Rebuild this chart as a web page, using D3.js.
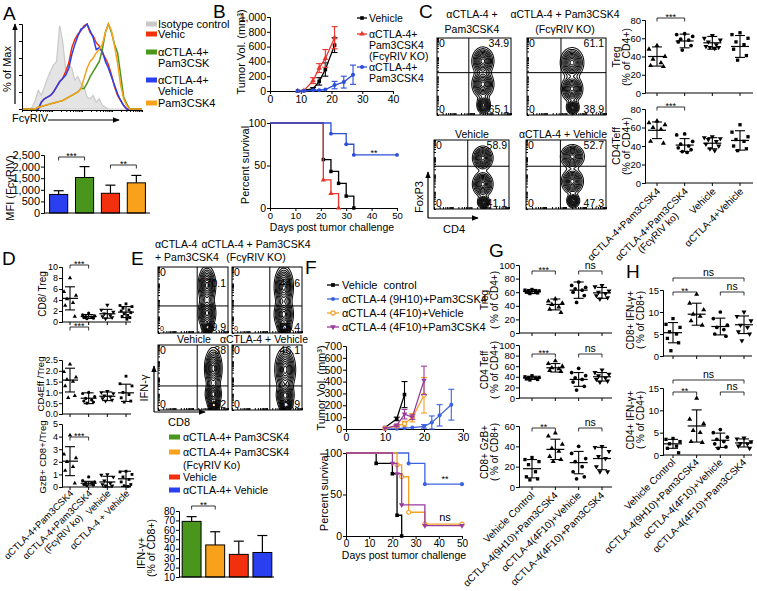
<!DOCTYPE html>
<html><head><meta charset="utf-8">
<script src="https://cdn.jsdelivr.net/npm/d3@7/dist/d3.min.js"></script>
<style>
html,body{margin:0;padding:0;background:#fff;}
svg{display:block;}
text{font-family:"Liberation Sans",Arial,Helvetica,sans-serif;}
</style></head>
<body>
<svg id="fig" width="757" height="591" viewBox="0 0 757 591"></svg>
<script>
// ======================= DATA =======================
// ---- Panel A: FcγRIV histograms (% of max, 40 log-spaced bins) ----
const histBins = d3.range(40);
const histIsotype     = [0,0,0,2,10,22,16,26,36,44,52,56,98,80,46,52,48,34,38,30,26,14,12,16,8,12,4,2,0,0,0,0,0,0,0,0,0,0,0,0];
const histVehicle     = [0,0,0,0,0,0,8,12,14,16,20,26,32,36,44,54,72,82,88,92,98,100,90,86,78,74,66,60,52,40,26,16,10,4,0,0,0,0,0,0];
const histCtlaVehicle = [0,0,0,0,0,0,8,12,14,16,20,26,32,36,40,48,64,76,86,94,96,100,92,84,70,72,68,56,48,38,28,18,10,4,0,0,0,0,0,0];
const histCtlaPam     = [0,0,0,0,0,2,3,4,5,6,7,8,9,10,12,14,16,18,20,24,24,30,38,44,50,56,70,90,100,90,76,66,40,14,6,0,0,0,0,0];
const histPam         = [0,0,0,0,0,2,3,4,5,6,7,8,9,10,12,14,16,18,20,24,36,48,56,60,66,70,76,90,100,92,74,54,28,12,4,0,0,0,0,0];
const aLegendLabels = [["Isotype control"],["Vehic"],["αCTLA-4+","Pam3CSK"],["αCTLA-4+","Vehicle"],["Pam3CSK4"]];
// MFI bars
const mfiGroups = ["αCTLA-4+ Vehicle","αCTLA-4+ Pam3CSK4","Vehicle","Pam3CSK4"];
const mfiMean = [800,1530,850,1300];
const mfiErr  = [160,470,350,320];
const mfiTicks = [0,500,1000,1500,2000,2500];

// ---- Panel B: tumor growth & survival ----
const bLegend = [["Vehicle"],["αCTLA-4+","Pam3CSK4","(FcγRIV KO)"],["αCTLA-4+","Pam3CSK4"]];
const bVehDays = [9,14,16,18,21],           bVehMean = [0,30,130,290,620],            bVehErr = [0,15,50,90,100];
const bKoDays  = [9,11,14,16,18,21],        bKoMean  = [0,5,140,310,440,720],          bKoErr  = [0,5,40,60,120,150];
const bPamDays = [9,11,14,16,18,21,24,27],  bPamMean = [0,0,10,10,20,80,120,220],      bPamErr = [0,0,5,5,10,50,80,130];
const bTumorYTicks = [0,200,400,600,800,1000], bTumorXTicks = [0,10,20,30,40];
const bSurvVehT = [0,21,24,27,30,33], bSurvVehS = [100,57,43,29,14,0];
const bSurvKoT  = [0,21,24,27],        bSurvKoS  = [100,33,17,0];
const bSurvPamT = [0,24,30,33,50],     bSurvPamS = [100,87.5,75,62.5,62.5];
const survXTicks = [0,10,20,30,40,50];

// ---- Panel C: flow plots (FoxP3 vs CD4) ----
const cTitles = [["αCTLA-4 +","Pam3CSK4"],["αCTLA-4 + Pam3CSK4","(FcγRIV KO)"],["Vehicle"],["αCTLA-4 + Vehicle"]];
const cUpperRight = ["34.9","61.1","58.9","52.7"];
const cLowerRight = ["65.1","38.9","41.1","47.3"];
const cGates = [[0.43,0.55],[0.43,0.55],[0.45,0.62],[0.43,0.62]];
// populations [CD4, FoxP3, spreadCD4, spreadFoxP3] in 0-1 plot units
const cPops = [
  [[0.62,0.70,0.13,0.16],[0.62,0.40,0.13,0.16],[0.63,0.13,0.08,0.10]],
  [[0.57,0.68,0.13,0.17],[0.57,0.34,0.12,0.15],[0.58,0.10,0.07,0.08]],
  [[0.65,0.74,0.12,0.15],[0.65,0.36,0.12,0.16],[0.66,0.10,0.07,0.08]],
  [[0.58,0.76,0.13,0.15],[0.58,0.40,0.12,0.16],[0.59,0.12,0.07,0.09]]
];
// C scatter: Treg and CD4Teff (% of CD4+)
const catC = ["αCTLA-4+Pam3CSK4","αCTLA-4+Pam3CSK4\n(FcγRIV ko)","Vehicle","αCTLA-4+Vehicle"];
const cTreg = [[52,48,40,37,33,30,29],[65,64,62,59,58,56,52,47],[63,60,58,56,53,51,50,50,49],[66,64,60,56,53,48,41,36]];
const cTregMean = [40,57,55,51], cTregSD = [10.5,7.5,7,12];
const cTeff = [[67,65,63,60,58,45,43],[53,52,45,42,40,38,36,34,33],[50,49,48,47,45,42,40,37,35],[63,55,50,47,45,40,37,35]];
const cTeffMean = [57,41,43,46], cTeffSD = [9,7,6,10.5];
const pctTicks80 = [0,20,40,60,80];

// ---- Panel D: ratios ----
const catD = ["αCTLA-4+Pam3CSK4","αCTLA-4+Pam3CSK4\n(FcγRIV ko)","Vehicle","αCTLA-4 + Vehicle"];
const dCd8 = [[8,5.5,4.8,4.2,3.5,3,1],[1.6,1.3,1.1,1.0,0.9,0.8,0.7,0.6],[3.1,2.2,1.8,1.5,1.2,1.0,0.8,0.6],[3.3,3.0,2.8,2.5,2.2,2.0,1.7,1.5,1.2,1.0,0.8,0.5]];
const dCd8Mean = [4.3,1.0,1.5,1.8], dCd8SD = [2.1,0.35,0.8,1.0];
const dCd8Ticks = [0,2,4,6,8,10];
const dEff = [[2.3,1.95,1.7,1.6,1.5,1.3,0.85,0.75],[1.0,0.95,0.8,0.72,0.65,0.6,0.55,0.5],[1.05,1.0,0.95,0.85,0.8,0.72,0.65,0.6],[1.75,1.4,1.3,1.0,0.9,0.75,0.6,0.55]];
const dEffMean = [1.57,0.73,0.82,0.98], dEffSD = [0.55,0.25,0.2,0.4];
const dEffTicks = [0,0.5,1.0,1.5,2.0,2.5];
const dGzb = [[4.1,2.6,2.3,2.0,1.6,1.3,0.3],[0.8,0.5,0.4,0.3,0.3,0.2,0.15,0.1],[1.0,0.95,0.8,0.5,0.3,0.2,0.1,0.1],[1.25,1.2,1.0,0.8,0.6,0.4,0.2,0.1,0.05]];
const dGzbMean = [2.05,0.3,0.4,0.65], dGzbSD = [1.15,0.15,0.45,0.6];
const dGzbTicks = [0,1,2,3,4,5];

// ---- Panel E: flow (IFN-γ vs CD8) + bars ----
const eTopRight = ["70.1","44.6","38","46.1"];
const eBottomRight = ["29.9","55.4","62","53.9"];
const eGates = [[0.56,0.41],[0.54,0.41],[0.56,0.37],[0.54,0.37]];
const ePops = [
  [[0.70,0.72,0.11,0.26],[0.70,0.30,0.11,0.22],[0.71,0.08,0.07,0.08]],
  [[0.74,0.70,0.12,0.28],[0.74,0.28,0.12,0.22],[0.75,0.08,0.08,0.08]],
  [[0.79,0.64,0.11,0.28],[0.79,0.24,0.10,0.18],[0.80,0.07,0.07,0.07]],
  [[0.76,0.62,0.13,0.30],[0.76,0.22,0.11,0.18],[0.77,0.07,0.08,0.07]]
];
const eGroups = ["αCTLA-4+ Pam3CSK4","αCTLA-4+ Pam3CSK4\n(FcγRIV Ko)","Vehicle","αCTLA-4+ Vehicle"];
const eIfnMean = [69,44,34,36];
const eIfnErr  = [5,14,14,18];
const eIfnTicks = [10,20,30,40,50,60,70,80];

// ---- Panel F: tumor growth & survival ----
const fLegend = ["Vehicle  control","αCTLA-4 (9H10)+Pam3CSK4","αCTLA-4 (4F10)+Vehicle","αCTLA-4 (4F10)+Pam3CSK4"];
const fVehDays = [10,13,15],                 fVehMean = [12,85,290],                 fVehErr = [5,15,110];
const f9H10Days = [10,13,15,17,20,22,24,27], f9H10Mean = [0,3,8,12,22,55,115,205],    f9H10Err = [0,2,4,5,15,55,90,130];
const f4F10VDays = [10,13,15,17,20],         f4F10VMean = [5,25,45,95,285],          f4F10VErr = [3,10,20,35,150];
const f4F10PDays = [10,13,15,17,20],         f4F10PMean = [5,30,125,100,410],        f4F10PErr = [3,10,40,20,120];
const fTumorYTicks = [0,100,200,300,400,500,600,700], fTumorXTicks = [0,10,20,30];
const fSurvVehT = [0,13,20,22,24],        fSurvVehS = [100,87.5,75,25,0];
const fSurv9T   = [0,27,34,50],           fSurv9S   = [100,87.5,62.5,62.5];
const fSurv4VT  = [0,22,24,27,34,50],     fSurv4VS  = [100,85.7,71.4,28.6,14.3,14.3];
const fSurv4PT  = [0,20,22,24,34,50],     fSurv4PS  = [100,87.5,75,37.5,12.5,12.5];

// ---- Panels G & H ----
const catGH = ["Vehicle Control","αCTLA-4(9H10)+Pam3CSK4","αCTLA-4(4F10)+Vehicle","αCTLA-4(4F10)+Pam3CSK4"];
const gTreg = [[64,63,62,61,61,60,59,58],[50,47,44,42,38,35,30],[75,70,67,65,63,60,55,45],[70,68,62,60,58,55,52,50]];
const gTregMean = [61,42,63,59], gTregSD = [3,8,12,8];
const gTeff = [[42,40,39,38,37,36,35,34],[70,65,60,57,55,52,50],[56,48,42,38,35,30,22,15],[53,48,45,42,38,35,32,30]];
const gTeffMean = [38,57,35,40], gTeffSD = [3,8,13,8];
const gGzb = [[29,27,25,22,15,10,8,7],[53,50,42,38,35,30,27,25],[40,33,28,25,20,15,10,8],[40,39,35,30,28,20,15,15]];
const gGzbMean = [18,37,24,28], gGzbSD = [9,10,11,11];
const pctTicks100 = [0,20,40,60,80,100], pctTicks60 = [0,20,40,60];
const hCd8 = [[8.5,7.2,6.5,5.5,5,4,3,1.2],[14,12,10.5,9.5,9,8,7],[10,8.5,7,6.5,6,5,4.5],[10,9,8,7,6.5,5.5,5,3.5]];
const hCd8Mean = [5.3,9.5,6.7,7.1], hCd8SD = [2.3,2.5,1.9,2.0];
const hCd4 = [[3.7,3.5,3,2.5,2,1.5,0.5],[12.7,8,7,5.5,5,3,2.8],[5.7,5,4,3.5,3,2.5,1.8,1.5],[3.8,3.6,3,2.6,2.5,2,1.5]];
const hCd4Mean = [2.5,6.5,3.3,2.7], hCd4SD = [1.0,3.6,1.6,0.9];
const hTicks = [0,5,10,15];

// ======================= STYLE =======================
const FF = '"Liberation Sans", Arial, Helvetica, sans-serif';
const C_GREEN = "#4a961c", C_ORANGE = "#f9a11b", C_RED = "#f2300e", C_BLUE = "#2a3ff0", C_GRAY = "#c9c9c9";
const F_BLUE = "#3d63e3", F_ORANGE = "#f4a125", F_PURPLE = "#9a3c9c", B_RED = "#e8342b", B_BLUE = "#2c4fd9";
const JIT = [0,-1,1,-0.5,0.5,-0.8,0.8,-0.3,0.3,-0.65,0.65,0.15];

const svg = d3.select("#fig");
const defs = svg.append("defs");
defs.append("marker").attr("id","arr").attr("viewBox","0 0 10 10").attr("refX",9).attr("refY",5)
  .attr("markerWidth",6).attr("markerHeight",6).attr("orient","auto")
  .append("path").attr("d","M0,1L10,5L0,9z").attr("fill","#000");

function T(g,x,y,s,o={}){
  const t=g.append("text").attr("x",x).attr("y",y).attr("font-size",o.fs||10.5)
    .attr("fill",o.fill||"#000").attr("text-anchor",o.a||"start");
  if(o.rot!=null) t.attr("transform",`rotate(${o.rot},${x},${y})`);
  if(o.pre) t.style("white-space","pre");
  t.text(s); return t;
}
function L(g,x1,y1,x2,y2,o={}){
  return g.append("line").attr("x1",x1).attr("y1",y1).attr("x2",x2).attr("y2",y2)
    .attr("stroke",o.c||"#000").attr("stroke-width",o.w||1);
}
function arrow(g,x1,y1,x2,y2){ L(g,x1,y1,x2,y2,{w:1.2}).attr("marker-end","url(#arr)"); }
function sty(a,fs){
  a.attr("font-family",FF).attr("font-size",fs||10);
  a.selectAll("text").attr("fill","#000");
  a.selectAll("path,line").attr("stroke","#000").attr("stroke-width",1);
  return a;
}
const SYM={circle:d3.symbolCircle,square:d3.symbolSquare,tri:d3.symbolTriangle,tdown:d3.symbolTriangle,diamond:d3.symbolDiamond};
function mark(g,x,y,shape,size,color,open){
  g.append("path").attr("d",d3.symbol().type(SYM[shape]).size(size)())
   .attr("transform",`translate(${x},${y})${shape==="tdown"?" rotate(180)":""}`)
   .attr("fill",open?"#fff":color).attr("stroke",color).attr("stroke-width",open?1.2:0);
}
function letter(x,y,s){ T(svg,x,y,s,{fs:19}); }
function bracket(g,xa,xb,y,label,fs){
  g.append("path").attr("d",`M${xa},${y+3.5}V${y}H${xb}V${y+3.5}`).attr("fill","none").attr("stroke","#000").attr("stroke-width",0.8);
  const star = label.indexOf("*")>=0;
  T(g,(xa+xb)/2, star? y+2 : y-2, label,{fs:fs||(star?9:10.5),a:"middle"});
}

// ---- dot plot (scatter with mean ± SD) ----
function dotPlot(c){
  const g=svg.append("g");
  const y=d3.scaleLinear().domain(c.domain).range(c.yr);
  const x=d3.scalePoint().domain(c.cats).range(c.xr);
  sty(g.append("g").attr("transform",`translate(${c.x0},0)`)
     .call(d3.axisLeft(y).tickValues(c.ticks).tickSize(3).tickPadding(1).tickFormat(c.fmt||(d=>d))), c.fs||9.5);
  const yb=y(c.domain[0]);
  L(g,c.x0,yb,c.x1,yb);
  c.cats.forEach(k=>L(g,x(k),yb,x(k),yb+3));
  c.vals.forEach((arr,i)=>{
    const cx=x(c.cats[i]);
    arr.forEach((v,j)=>mark(g,cx+JIT[j%JIT.length]*c.jit,y(v),c.shapes[i],c.ms||11,"#000",false));
    const m=c.mean[i], s=c.sd[i];
    L(g,cx-c.mw,y(m),cx+c.mw,y(m),{w:1.2});
    L(g,cx,y(m+s),cx,y(Math.max(c.domain[0],m-s)),{w:1.1});
    L(g,cx-5,y(m+s),cx+5,y(m+s),{w:1.1});
    L(g,cx-5,y(Math.max(c.domain[0],m-s)),cx+5,y(Math.max(c.domain[0],m-s)),{w:1.1});
  });
  (c.br||[]).forEach(b=>bracket(g,x(c.cats[b[0]]),x(c.cats[b[1]]),b[2],b[3]));
  c.ylab.forEach(l=>T(g,l[0],c.ymid,l[1],{fs:c.lfs||10.5,a:"middle",rot:-90}));
  if(c.xl){
    c.cats.forEach(k=>{
      const lines=k.split("\n");
      const t=g.append("text").attr("font-size",c.xl.fs||10).attr("text-anchor","end")
        .attr("transform",`translate(${x(k)+c.xl.dx},${c.xl.y}) rotate(-45)`);
      lines.forEach((ln,q)=>t.append("tspan").attr("x",q?-24:0).attr("y",q?10.5:0).text(ln));
    });
  }
}

// ---- growth curves ----
function growth(g,c){
  const x=d3.scaleLinear().domain(c.xd).range(c.xr);
  const y=d3.scaleLinear().domain(c.yd).range(c.yr);
  sty(g.append("g").attr("transform",`translate(${c.xr[0]},0)`).call(d3.axisLeft(y).tickValues(c.yt).tickSize(3).tickPadding(1)),c.fs);
  sty(g.append("g").attr("transform",`translate(0,${c.yr[0]})`).call(d3.axisBottom(x).tickValues(c.xt).tickSize(3).tickPadding(2)),c.fs);
  c.series.forEach(s=>{
    const pts=s.days.map((d,i)=>[x(d),y(s.mean[i]),y(s.mean[i]+s.err[i]),y(Math.max(c.yd[0],s.mean[i]-s.err[i]))]);
    g.append("path").attr("d",d3.line()(pts.map(p=>[p[0],p[1]]))).attr("fill","none").attr("stroke",s.color).attr("stroke-width",1.3);
    pts.forEach(p=>{
      if(p[1]-p[2]>1){
        L(g,p[0],p[2],p[0],p[3],{c:s.color,w:1.1});
        L(g,p[0]-3,p[2],p[0]+3,p[2],{c:s.color,w:1.1});
        L(g,p[0]-3,p[3],p[0]+3,p[3],{c:s.color,w:1.1});
      }
      mark(g,p[0],p[1],s.shape,c.ms,s.color,s.open);
    });
  });
}
// ---- survival curves ----
function survival(g,c){
  const x=d3.scaleLinear().domain([0,50]).range(c.xr);
  const y=d3.scaleLinear().domain([0,100]).range(c.yr);
  sty(g.append("g").attr("transform",`translate(${c.xr[0]},0)`).call(d3.axisLeft(y).tickValues([0,50,100]).tickSize(3).tickPadding(1)),c.fs);
  sty(g.append("g").attr("transform",`translate(0,${c.yr[0]})`).call(d3.axisBottom(x).tickValues(survXTicks).tickSize(3).tickPadding(1)),c.xfs||c.fs);
  c.series.forEach(s=>{
    const pts=s.t.map((t,i)=>[x(t),y(s.s[i])]);
    g.append("path").attr("d",d3.line().curve(d3.curveStepAfter)(pts)).attr("fill","none").attr("stroke",s.color).attr("stroke-width",1.3);
    pts.slice(1).forEach(p=>mark(g,p[0],p[1],s.shape,c.ms,s.color,s.open));
  });
  return {x,y};
}
// ---- flow contour plot (density contours of the populations) ----
let clipId=0;
function flow(g,b,gate,pops,ur,lr,o={}){
  const n=70, m=70;
  const vals=new Array(n*m);
  for(let j=0;j<m;j++) for(let i=0;i<n;i++){
    const u=(i+0.5)/n, v=1-(j+0.5)/m;
    let s=0;
    pops.forEach(p=>{ const dx=(u-p[0])/(p[2]/2), dy=(v-p[1])/(p[3]/2); s+=Math.exp(-0.5*(dx*dx+dy*dy)); });
    vals[j*n+i]=s;
  }
  const th=[0.07,0.13,0.2,0.28,0.37,0.47,0.58,0.7,0.82,0.93];
  const cs=d3.contours().size([n,m]).thresholds(th)(vals);
  const id="clip"+(clipId++);
  defs.append("clipPath").attr("id",id).append("rect").attr("x",b.x).attr("y",b.y).attr("width",b.w).attr("height",b.h);
  const cg=g.append("g").attr("clip-path",`url(#${id})`)
    .append("g").attr("transform",`translate(${b.x},${b.y}) scale(${b.w/n},${b.h/m})`);
  cg.selectAll("path.ct").data(cs).enter().append("path").attr("class","ct").attr("d",d3.geoPath())
    .attr("fill","none").attr("stroke","#111").attr("stroke-width",1.05).attr("vector-effect","non-scaling-stroke");
  g.append("rect").attr("x",b.x).attr("y",b.y).attr("width",b.w).attr("height",b.h).attr("fill","none").attr("stroke","#000").attr("stroke-width",1);
  const sx=d3.scaleLinear().domain([0,1]).range([b.x,b.x+b.w]);
  const sy=d3.scaleLinear().domain([0,1]).range([b.y+b.h,b.y]);
  L(g,sx(gate[0]),b.y,sx(gate[0]),b.y+b.h);
  L(g,b.x,sy(gate[1]),b.x+b.w,sy(gate[1]));
  const lx=d3.scaleLog().domain([10,1e5]).range([b.x,b.x+b.w]);
  const ly=d3.scaleLog().domain([10,1e5]).range([b.y+b.h,b.y]);
  sty(g.append("g").attr("transform",`translate(0,${b.y+b.h})`).call(d3.axisTop(lx).tickSize(2).tickFormat(""))).selectAll(".domain").remove();
  sty(g.append("g").attr("transform",`translate(${b.x},0)`).call(d3.axisRight(ly).tickSize(2).tickFormat(""))).selectAll(".domain").remove();
  const fs=o.fs||10.5;
  T(g,b.x+2,b.y+9,"0",{fs:o.zfs||fs});
  T(g,b.x+2,b.y+b.h-2,"0",{fs:o.zfs2||o.zfs||fs});
  T(g,b.x+b.w-2,b.y+(o.urDy||9),ur,{fs,a:"end"});
  T(g,b.x+b.w-2,b.y+b.h-2,lr,{fs,a:"end"});
}

// ======================= PANEL A =======================
letter(3,20,"A");
{
  const g=svg.append("g");
  const hx=d3.scaleLinear().domain([0,39]).range([23,142]);
  const hy=d3.scaleLinear().domain([0,100]).range([109,24]);
  sty(g.append("g").attr("transform","translate(22,0)").call(d3.axisLeft(hy).tickValues([0,20,40,60,80,100]).tickSize(3).tickFormat("")));
  const hl=d3.scaleLog().domain([10,1e5]).range([22,142]);
  sty(g.append("g").attr("transform","translate(0,110)").call(d3.axisBottom(hl).tickSize(2).tickFormat("")));
  g.append("path").attr("d",d3.area().x((d,i)=>hx(histBins[i])).y0(hy(0)).y1(d=>hy(d))(histIsotype))
    .attr("fill","#e4e4e4").attr("stroke",C_GRAY).attr("stroke-width",1.2);
  const ln=d3.line().x((d,i)=>hx(histBins[i])).y(d=>hy(d));
  [[histVehicle,C_RED],[histCtlaVehicle,C_BLUE],[histCtlaPam,C_GREEN],[histPam,C_ORANGE]].forEach(s=>{
    g.append("path").attr("d",ln(s[0])).attr("fill","none").attr("stroke",s[1]).attr("stroke-width",1.5);
  });
  T(g,11,69,"% of Max",{fs:11,a:"middle",rot:-90});
  arrow(g,15,104,15,24);
  T(g,12,122,"FcγRIV",{fs:11});
  arrow(g,48,120,119,120);
  // legend
  const legCol=[C_GRAY,C_RED,C_GREEN,C_BLUE,C_ORANGE];
  const legY=[24,34,52,80,103];
  aLegendLabels.forEach((lines,i)=>{
    g.append("rect").attr("x",146).attr("y",legY[i]-2.5).attr("width",11).attr("height",5).attr("fill",legCol[i]);
    lines.forEach((s,k)=>T(g,158,legY[i]+4+k*11,s,{fs:11}));
  });
  // MFI bars
  const by=d3.scaleLinear().domain([0,2500]).range([213,155]);
  const bx=d3.scaleBand().domain(mfiGroups).range([47,148]).paddingInner(0.3).paddingOuter(0.1);
  const barCol=[C_BLUE,C_GREEN,C_RED,C_ORANGE];
  mfiGroups.forEach((k,i)=>{
    const x0=bx(k), w=bx.bandwidth(), cx=x0+w/2;
    L(g,cx,by(mfiMean[i]),cx,by(mfiMean[i]+mfiErr[i]),{w:1.2});
    L(g,cx-5,by(mfiMean[i]+mfiErr[i]),cx+5,by(mfiMean[i]+mfiErr[i]),{w:1.2});
    g.append("rect").attr("x",x0).attr("y",by(mfiMean[i])).attr("width",w).attr("height",by(0)-by(mfiMean[i]))
      .attr("fill",barCol[i]).attr("stroke","#000").attr("stroke-width",1);
  });
  sty(g.append("g").attr("transform","translate(44,0)").call(d3.axisLeft(by).tickValues(mfiTicks).tickSize(3).tickPadding(1)),11);
  L(g,44,213,150,213);
  const c=i=>bx(mfiGroups[i])+bx.bandwidth()/2;
  bracket(g,c(0),c(1),157,"***");
  bracket(g,c(2),c(3),165,"**");
  T(g,14,188,"MFI (FcγRIV)",{fs:11,a:"middle",rot:-90});
}

// ======================= PANEL B =======================
letter(213,18,"B");
{
  const g=svg.append("g");
  growth(g,{xd:[0,40],xr:[270,393],yd:[0,1000],yr:[91,17],xt:bTumorXTicks,yt:bTumorYTicks,fs:10.5,ms:13,
    series:[
      {days:bVehDays,mean:bVehMean,err:bVehErr,color:"#000",shape:"square"},
      {days:bKoDays,mean:bKoMean,err:bKoErr,color:B_RED,shape:"tri"},
      {days:bPamDays,mean:bPamMean,err:bPamErr,color:B_BLUE,shape:"circle"}]});
  T(g,245,52,"Tumor Vol. (mm³)",{fs:11,a:"middle",rot:-90});
  const lc=["#000",B_RED,B_BLUE], ls=["square","tri","circle"], ly=[18,34,67];
  bLegend.forEach((lines,i)=>{
    L(g,357,ly[i],367,ly[i],{c:lc[i],w:1.3});
    mark(g,362,ly[i],ls[i],13,lc[i],false);
    lines.forEach((s,k)=>T(g,369,ly[i]+4+k*11,s,{fs:10.5}));
  });
  survival(g,{xr:[270,397],yr:[208,123],fs:10.5,xfs:9.5,ms:12,
    series:[
      {t:bSurvVehT,s:bSurvVehS,color:"#000",shape:"square"},
      {t:bSurvKoT,s:bSurvKoS,color:B_RED,shape:"tri"},
      {t:bSurvPamT,s:bSurvPamS,color:B_BLUE,shape:"circle"}]});
  T(g,249,165,"Percent survival",{fs:11,a:"middle",rot:-90});
  T(g,332,231,"Days post tumor challenge",{fs:10.5,a:"middle"});
  T(g,374,156,"**",{fs:9,a:"middle"});
}

// ======================= PANEL C =======================
letter(419,18,"C");
{
  const g=svg.append("g");
  const boxes=[{x:437,y:38,w:74,h:77},{x:527,y:38,w:79,h:77},{x:434,y:140,w:75,h:69},{x:526,y:140,w:80,h:69}];
  boxes.forEach((b,i)=>flow(g,b,cGates[i],cPops[i],cUpperRight[i],cLowerRight[i]));
  const tx=[472,565,472,563];
  cTitles.forEach((lines,i)=>{
    const y0 = i<2 ? 18 : 138;
    lines.forEach((s,k)=>T(g,tx[i],y0+k*15,s,{fs:10.5,a:"middle"}));
  });
  T(g,423,197,"FoxP3",{fs:11,a:"middle",rot:-90});
  arrow(g,428,218,428,172);
  arrow(g,428,218,478,218);
  T(g,443,233,"CD4",{fs:11});
}
dotPlot({x0:645,x1:753,xr:[657,740],domain:[0,80],yr:[93,20],ticks:pctTicks80,cats:catC,vals:cTreg,mean:cTregMean,sd:cTregSD,
  shapes:["tri","circle","tdown","square"],jit:8,mw:9,br:[[0,1,18,"***"]],ylab:[[620,"Treg"],[630,"(% of CD4+)"]],ymid:57});
dotPlot({x0:645,x1:753,xr:[657,740],domain:[0,80],yr:[183,109],ticks:pctTicks80,cats:catC,vals:cTeff,mean:cTeffMean,sd:cTeffSD,
  shapes:["tri","circle","tdown","square"],jit:8,mw:9,br:[[0,1,107,"***"]],ylab:[[620,"CD4Teff"],[630,"(% of CD4+)"]],ymid:146,
  xl:{dx:4,y:192,fs:10}});

// ======================= PANEL D =======================
letter(2,265,"D");
dotPlot({x0:62,x1:131,xr:[70,126],domain:[0,10],yr:[322,267],ticks:dCd8Ticks,cats:catD,vals:dCd8,mean:dCd8Mean,sd:dCd8SD,fs:9,
  shapes:["tri","circle","tdown","square"],ms:8,jit:6,mw:8,br:[[0,1,265,"***"]],ylab:[[46,"CD8/ Treg"]],ymid:294,lfs:10});
dotPlot({x0:62,x1:131,xr:[70,126],domain:[0,2.5],yr:[414,360],ticks:dEffTicks,fmt:d3.format(".1f"),cats:catD,vals:dEff,mean:dEffMean,sd:dEffSD,fs:9,
  shapes:["tri","circle","tdown","square"],ms:8,jit:6,mw:8,br:[[0,1,327,"***"]],ylab:[[44,"CD4Eff /Treg"]],ymid:384,lfs:9.5});
dotPlot({x0:62,x1:131,xr:[70,126],domain:[0,5],yr:[487,424],ticks:dGzbTicks,cats:catD,vals:dGzb,mean:dGzbMean,sd:dGzbSD,fs:9,
  shapes:["tri","circle","tdown","square"],ms:8,jit:6,mw:8,br:[[0,1,437,"***"]],ylab:[[46,"GzB+ CD8+/Treg"]],ymid:457,lfs:9.5,
  xl:{dx:4,y:494,fs:9.5}});

// ======================= PANEL E =======================
letter(131,265,"E");
{
  const g=svg.append("g");
  const boxes=[{x:158,y:267,w:70,h:66},{x:232,y:267,w:70,h:66},{x:158,y:345,w:70,h:65},{x:232,y:345,w:70,h:65}];
  boxes.forEach((b,i)=>flow(g,b,eGates[i],ePops[i],eTopRight[i],eBottomRight[i],{fs:10.5,urDy:i<2?20:9,zfs2:i<2?7:10.5}));
  T(g,155,248,"αCTLA-4",{fs:10.5});
  T(g,155,261,"+ Pam3CSK4",{fs:10.5});
  T(g,256,248,"αCTLA-4 + Pam3CSK4",{fs:10.5,a:"middle"});
  T(g,256,261,"(FcγRIV KO)",{fs:10.5,a:"middle"});
  T(g,194,343,"Vehicle",{fs:10.5,a:"middle"});
  T(g,264,343,"αCTLA-4 + Vehicle",{fs:10.5,a:"middle"});
  T(g,148,388,"IFN-γ",{fs:11,a:"middle",rot:-90});
  arrow(g,154,412,154,366);
  arrow(g,154,412,205,412);
  T(g,168,426,"CD8",{fs:11});
  // legend
  const col=[C_GREEN,C_ORANGE,C_RED,C_BLUE], ly=[437,452,477,490];
  eGroups.forEach((k,i)=>{
    g.append("rect").attr("x",169).attr("y",ly[i]-2.5).attr("width",11).attr("height",5).attr("fill",col[i]);
    k.split("\n").forEach((s,q)=>T(g,183,ly[i]+4+q*12.5,s,{fs:10.5}));
  });
  // bars
  const y=d3.scaleLinear().domain([10,80]).range([577,511]);
  const x=d3.scaleBand().domain(eGroups).range([181,273]).paddingInner(0.2).paddingOuter(0.05);
  eGroups.forEach((k,i)=>{
    const x0=x(k), w=x.bandwidth(), cx=x0+w/2;
    L(g,cx,y(eIfnMean[i]),cx,y(eIfnMean[i]+eIfnErr[i]),{w:1.2});
    L(g,cx-5,y(eIfnMean[i]+eIfnErr[i]),cx+5,y(eIfnMean[i]+eIfnErr[i]),{w:1.2});
    g.append("rect").attr("x",x0).attr("y",y(eIfnMean[i])).attr("width",w).attr("height",y(10)-y(eIfnMean[i]))
      .attr("fill",col[i]).attr("stroke","#000").attr("stroke-width",1);
  });
  sty(g.append("g").attr("transform","translate(179,0)").call(d3.axisLeft(y).tickValues(eIfnTicks).tickSize(3).tickPadding(1)),10);
  L(g,179,577,274,577);
  const c=i=>x(eGroups[i])+x.bandwidth()/2;
  bracket(g,c(0),c(1),506,"**");
  T(g,145,553,"IFN-γ+",{fs:10.5,a:"middle",rot:-90});
  T(g,155,548,"(% of CD8+)",{fs:10.5,a:"middle",rot:-90});
}

// ======================= PANEL F =======================
letter(305,274,"F");
{
  const g=svg.append("g");
  const col=["#000",F_BLUE,F_ORANGE,F_PURPLE], shp=["square","circle","circle","tdown"], open=[false,false,true,false];
  const ly=[285,299,313,327];
  fLegend.forEach((s,i)=>{
    L(g,327,ly[i],339,ly[i],{c:col[i],w:1.3});
    mark(g,333,ly[i],shp[i],14,col[i],open[i]);
    T(g,342,ly[i]+4,s,{fs:11,pre:true});
  });
  growth(g,{xd:[0,30],xr:[346,463],yd:[0,700],yr:[429,346],xt:fTumorXTicks,yt:fTumorYTicks,fs:10.5,ms:13,
    series:[
      {days:fVehDays,mean:fVehMean,err:fVehErr,color:"#000",shape:"square"},
      {days:f9H10Days,mean:f9H10Mean,err:f9H10Err,color:F_BLUE,shape:"circle"},
      {days:f4F10VDays,mean:f4F10VMean,err:f4F10VErr,color:F_ORANGE,shape:"circle",open:true},
      {days:f4F10PDays,mean:f4F10PMean,err:f4F10PErr,color:F_PURPLE,shape:"tdown"}]});
  T(g,325,388,"Tumor Vol. (mm³)",{fs:11,a:"middle",rot:-90});
  survival(g,{xr:[346,462],yr:[536,453],fs:10.5,xfs:10,ms:13,
    series:[
      {t:fSurvVehT,s:fSurvVehS,color:"#000",shape:"square"},
      {t:fSurv9T,s:fSurv9S,color:F_BLUE,shape:"circle"},
      {t:fSurv4VT,s:fSurv4VS,color:F_ORANGE,shape:"circle",open:true},
      {t:fSurv4PT,s:fSurv4PS,color:F_PURPLE,shape:"tdown"}]});
  T(g,328,492,"Percent survival",{fs:11,a:"middle",rot:-90});
  T(g,404,559,"Days post tumor challenge",{fs:10.5,a:"middle"});
  T(g,445,482,"**",{fs:9,a:"middle"});
  T(g,445,521,"ns",{fs:11,a:"middle"});
}

// ======================= PANEL G =======================
letter(489,257,"G");
dotPlot({x0:519,x1:612,xr:[532,602],domain:[0,100],yr:[333,265],ticks:pctTicks100,cats:catGH,vals:gTreg,mean:gTregMean,sd:gTregSD,
  shapes:["square","tri","circle","tdown"],jit:7,mw:9,br:[[0,1,271,"***"],[2,3,271,"ns"]],ylab:[[488,"Treg"],[498,"( % of CD4+)"]],ymid:300,lfs:10});
dotPlot({x0:519,x1:612,xr:[532,602],domain:[0,100],yr:[398,345],ticks:pctTicks100,cats:catGH,vals:gTeff,mean:gTeffMean,sd:gTeffSD,
  shapes:["square","tri","circle","tdown"],jit:7,mw:9,br:[[0,1,354,"***"],[2,3,354,"ns"]],ylab:[[488,"CD4 Teff"],[498,"( % of CD4+)"]],ymid:370,lfs:10});
dotPlot({x0:519,x1:612,xr:[532,602],domain:[0,60],yr:[487,426],ticks:pctTicks60,cats:catGH,vals:gGzb,mean:gGzbMean,sd:gGzbSD,
  shapes:["square","tri","circle","tdown"],jit:7,mw:9,br:[[0,1,428,"**"],[2,3,428,"ns"]],ylab:[[488,"CD8+ GzB+"],[498,"( % of CD8+)"]],ymid:452,lfs:10,
  xl:{dx:3,y:496,fs:10}});

// ======================= PANEL H =======================
letter(626,278,"H");
dotPlot({x0:663,x1:752,xr:[673,744],domain:[0,15],yr:[356,290],ticks:hTicks,cats:catGH,vals:hCd8,mean:hCd8Mean,sd:hCd8SD,
  shapes:["square","tri","circle","tdown"],jit:7,mw:9,br:[[0,3,278,"ns"],[0,1,292,"**"],[2,3,292,"ns"]],ylab:[[634,"CD8+ IFN-γ+"],[644,"( % of CD8+)"]],ymid:320,lfs:10});
dotPlot({x0:663,x1:752,xr:[673,744],domain:[0,15],yr:[455,388],ticks:hTicks,cats:catGH,vals:hCd4,mean:hCd4Mean,sd:hCd4SD,
  shapes:["square","tri","circle","tdown"],jit:7,mw:9,br:[[0,3,380,"ns"],[0,1,392,"**"],[2,3,392,"ns"]],ylab:[[634,"CD4+ IFN-γ+"],[644,"( % of CD4+)"]],ymid:420,lfs:10,
  xl:{dx:3,y:463,fs:10}});
</script>
</body></html>
